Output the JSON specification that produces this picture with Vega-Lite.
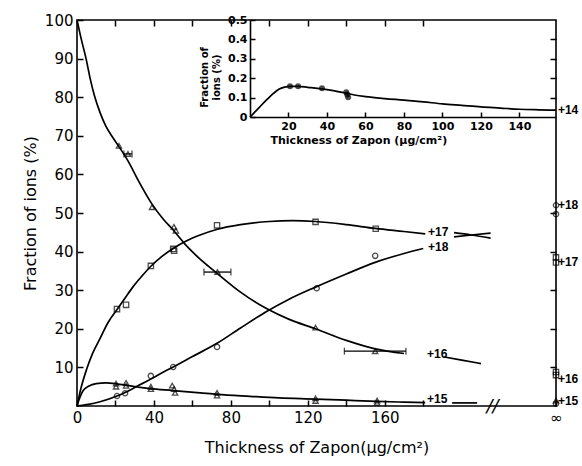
{
  "$schema": "https://vega.github.io/schema/vega-lite/v6.json",
  "width": 479,
  "height": 386,
  "autosize": "none",
  "padding": {"left": 77, "top": 20, "right": 26, "bottom": 60},
  "background": "white",
  "config": {
    "view": {"stroke": "black", "strokeWidth": 1.6},
    "axis": {
      "grid": false, "tickColor": "black", "domainColor": "black", "labelColor": "black",
      "titleColor": "black", "labelFont": "DejaVu Sans", "titleFont": "DejaVu Sans",
      "titleFontWeight": "normal", "tickWidth": 1.5, "domainWidth": 1.6, "labelFlush": false, "labelOverlap": false
    },
    "text": {"font": "DejaVu Sans", "color": "black"}
  },
  "datasets": {
    "curves": [
      {"s": "16a", "x": 0, "y": 100}, {"s": "16a", "x": 2, "y": 95.5}, {"s": "16a", "x": 4.7, "y": 90}, {"s": "16a", "x": 7, "y": 84.5}, {"s": "16a", "x": 9, "y": 80.5}, {"s": "16a", "x": 12, "y": 76}, {"s": "16a", "x": 15, "y": 72.5}, {"s": "16a", "x": 18, "y": 70}, {"s": "16a", "x": 21.8, "y": 67.2}, {"s": "16a", "x": 26.5, "y": 63.5}, {"s": "16a", "x": 32, "y": 58.3}, {"s": "16a", "x": 39, "y": 52.3}, {"s": "16a", "x": 45, "y": 48.3}, {"s": "16a", "x": 50, "y": 45.6}, {"s": "16a", "x": 56, "y": 42}, {"s": "16a", "x": 63, "y": 38.5}, {"s": "16a", "x": 73, "y": 34.3}, {"s": "16a", "x": 85, "y": 29.5}, {"s": "16a", "x": 99, "y": 25.1}, {"s": "16a", "x": 110, "y": 22.5}, {"s": "16a", "x": 124, "y": 20}, {"s": "16a", "x": 140, "y": 17}, {"s": "16a", "x": 155, "y": 14.8}, {"s": "16a", "x": 170, "y": 13.6},
      {"s": "16b", "x": 191, "y": 12.7}, {"s": "16b", "x": 200, "y": 11.9}, {"s": "16b", "x": 210, "y": 11},
      {"s": "17a", "x": 0, "y": 0}, {"s": "17a", "x": 2, "y": 4.5}, {"s": "17a", "x": 5, "y": 9.5}, {"s": "17a", "x": 8, "y": 13.5}, {"s": "17a", "x": 12, "y": 17.5}, {"s": "17a", "x": 16, "y": 21.5}, {"s": "17a", "x": 20.8, "y": 25}, {"s": "17a", "x": 25, "y": 28}, {"s": "17a", "x": 29, "y": 30.8}, {"s": "17a", "x": 34, "y": 33.8}, {"s": "17a", "x": 38.4, "y": 36.2}, {"s": "17a", "x": 44, "y": 38.7}, {"s": "17a", "x": 50, "y": 40.8}, {"s": "17a", "x": 57, "y": 42.8}, {"s": "17a", "x": 64, "y": 44.3}, {"s": "17a", "x": 73, "y": 45.8}, {"s": "17a", "x": 85, "y": 47}, {"s": "17a", "x": 100, "y": 47.8}, {"s": "17a", "x": 112, "y": 48}, {"s": "17a", "x": 124, "y": 47.8}, {"s": "17a", "x": 140, "y": 47}, {"s": "17a", "x": 155, "y": 46}, {"s": "17a", "x": 170, "y": 45.2}, {"s": "17a", "x": 181, "y": 44.6},
      {"s": "17b", "x": 196, "y": 44.9}, {"s": "17b", "x": 205, "y": 44.3}, {"s": "17b", "x": 215, "y": 43.5},
      {"s": "18a", "x": 0, "y": 0}, {"s": "18a", "x": 6, "y": 0.4}, {"s": "18a", "x": 12, "y": 1.1}, {"s": "18a", "x": 20.8, "y": 2.6}, {"s": "18a", "x": 25, "y": 3.5}, {"s": "18a", "x": 30, "y": 4.8}, {"s": "18a", "x": 38.4, "y": 7}, {"s": "18a", "x": 45, "y": 8.8}, {"s": "18a", "x": 50, "y": 10.1}, {"s": "18a", "x": 60, "y": 12.8}, {"s": "18a", "x": 73, "y": 16.3}, {"s": "18a", "x": 85, "y": 20.2}, {"s": "18a", "x": 99, "y": 24.6}, {"s": "18a", "x": 110, "y": 27.6}, {"s": "18a", "x": 124, "y": 30.8}, {"s": "18a", "x": 140, "y": 34.2}, {"s": "18a", "x": 155, "y": 37.2}, {"s": "18a", "x": 170, "y": 39.5}, {"s": "18a", "x": 180, "y": 40.8},
      {"s": "18b", "x": 196, "y": 43.8}, {"s": "18b", "x": 205, "y": 44.3}, {"s": "18b", "x": 215, "y": 44.8},
      {"s": "15a", "x": 0, "y": 0}, {"s": "15a", "x": 1.5, "y": 2.2}, {"s": "15a", "x": 3.2, "y": 4}, {"s": "15a", "x": 6, "y": 5.1}, {"s": "15a", "x": 10, "y": 5.8}, {"s": "15a", "x": 15, "y": 6}, {"s": "15a", "x": 20, "y": 5.8}, {"s": "15a", "x": 25, "y": 5.4}, {"s": "15a", "x": 30, "y": 5}, {"s": "15a", "x": 38, "y": 4.5}, {"s": "15a", "x": 50, "y": 4}, {"s": "15a", "x": 64, "y": 3.4}, {"s": "15a", "x": 73, "y": 3}, {"s": "15a", "x": 90, "y": 2.5}, {"s": "15a", "x": 105, "y": 2.1}, {"s": "15a", "x": 124, "y": 1.8}, {"s": "15a", "x": 140, "y": 1.5}, {"s": "15a", "x": 156, "y": 1.2}, {"s": "15a", "x": 170, "y": 1}, {"s": "15a", "x": 181, "y": 0.85},
      {"s": "15b", "x": 195, "y": 0.8}, {"s": "15b", "x": 208, "y": 0.8}
    ],
    "points": [
      {"m": "tri", "x": 21.8, "y": 67.4}, {"m": "tri", "x": 26.5, "y": 65.3}, {"m": "tri", "x": 39, "y": 51.5}, {"m": "tri", "x": 50.4, "y": 46.4}, {"m": "tri", "x": 51.4, "y": 45.4}, {"m": "tri", "x": 73, "y": 34.7}, {"m": "tri", "x": 124, "y": 20.3}, {"m": "tri", "x": 155, "y": 14.2},
      {"m": "sq", "x": 20.8, "y": 25.1}, {"m": "sq", "x": 25.5, "y": 26.2}, {"m": "sq", "x": 38.4, "y": 36.3}, {"m": "sq", "x": 50, "y": 40.7}, {"m": "sq", "x": 50.5, "y": 40.2}, {"m": "sq", "x": 72.8, "y": 46.8}, {"m": "sq", "x": 124, "y": 47.7}, {"m": "sq", "x": 155.3, "y": 45.9},
      {"m": "circ", "x": 20.8, "y": 2.6}, {"m": "circ", "x": 25, "y": 3.3}, {"m": "circ", "x": 38.4, "y": 7.8}, {"m": "circ", "x": 50, "y": 10.1}, {"m": "circ", "x": 72.8, "y": 15.3}, {"m": "circ", "x": 124.6, "y": 30.5}, {"m": "circ", "x": 155, "y": 38.9},
      {"m": "tri", "x": 20.3, "y": 5.8}, {"m": "tri", "x": 20.3, "y": 5}, {"m": "tri", "x": 25.5, "y": 6}, {"m": "tri", "x": 25.5, "y": 5.2}, {"m": "tri", "x": 38.4, "y": 5}, {"m": "tri", "x": 38.4, "y": 4.4}, {"m": "tri", "x": 49.5, "y": 5.3}, {"m": "tri", "x": 50.5, "y": 4.4}, {"m": "tri", "x": 51, "y": 3.4}, {"m": "tri", "x": 72.8, "y": 3.4}, {"m": "tri", "x": 72.8, "y": 2.7}, {"m": "tri", "x": 124, "y": 2}, {"m": "tri", "x": 124, "y": 1.3}, {"m": "tri", "x": 156, "y": 1.4}, {"m": "tri", "x": 156, "y": 0.8},
      {"m": "circ", "x": 249, "y": 52}, {"m": "circ", "x": 249, "y": 49.7}, {"m": "sq", "x": 249, "y": 38.5}, {"m": "sq", "x": 249, "y": 37.2}, {"m": "sq", "x": 249, "y": 8.8}, {"m": "sq", "x": 249, "y": 8}, {"m": "tri", "x": 249, "y": 1.4}, {"m": "circ", "x": 249, "y": 0.6}
    ],
    "errors": [
      {"x1": 24.4, "x2": 28.6, "y": 65.3}, {"x1": 66, "x2": 80, "y": 34.7}, {"x1": 139, "x2": 171, "y": 14.2}
    ],
    "labels": [
      {"t": "+17", "x": 182.5, "y": 45.2}, {"t": "+18", "x": 182.5, "y": 41.2}, {"t": "+16", "x": 182, "y": 13.5}, {"t": "+15", "x": 182, "y": 1.8},
      {"t": "+18", "x": 250, "y": 52}, {"t": "+17", "x": 250, "y": 37.3}, {"t": "+16", "x": 250, "y": 7}, {"t": "+15", "x": 250, "y": 1.3}
    ],
    "brk": [{"t": "//", "x": 216, "y": 0}],
    "inset_curve": [
      {"x": 0, "y": 0}, {"x": 3, "y": 0.03}, {"x": 6, "y": 0.062}, {"x": 9, "y": 0.092}, {"x": 12, "y": 0.12}, {"x": 15, "y": 0.143}, {"x": 18, "y": 0.154}, {"x": 21, "y": 0.158}, {"x": 25, "y": 0.158}, {"x": 30, "y": 0.153}, {"x": 37.4, "y": 0.145}, {"x": 44, "y": 0.135}, {"x": 50, "y": 0.123}, {"x": 55, "y": 0.112}, {"x": 60, "y": 0.105}, {"x": 70, "y": 0.095}, {"x": 80, "y": 0.087}, {"x": 90, "y": 0.078}, {"x": 100, "y": 0.068}, {"x": 110, "y": 0.06}, {"x": 120, "y": 0.052}, {"x": 130, "y": 0.046}, {"x": 140, "y": 0.04}, {"x": 150, "y": 0.037}, {"x": 159, "y": 0.035}
    ],
    "inset_pts": [
      {"x": 20.8, "y": 0.158}, {"x": 25, "y": 0.158}, {"x": 37.4, "y": 0.148}, {"x": 50, "y": 0.128}, {"x": 50.5, "y": 0.116}, {"x": 51, "y": 0.102}
    ],
    "inset_lab": [{"t": "+14", "x": 160, "y": 0.036}]
  },
  "resolve": {"scale": {"x": "independent", "y": "independent"}},
  "layer": [
    {
      "layer": [
        {
          "data": {"name": "curves"},
          "mark": {"type": "line", "interpolate": "monotone", "color": "black", "strokeWidth": 1.7},
          "encoding": {
            "x": {"field": "x", "type": "quantitative", "scale": {"domain": [0, 249], "nice": false, "zero": false},
              "axis": {"orient": "bottom", "domain": false, "values": [0, 20, 40, 60, 80, 100, 120, 140, 160, 180, 249], "tickSize": -6, "labelPadding": 10,
                "labelExpr": "datum.value == 249 ? '∞' : (datum.value % 40 == 0 ? datum.label : '')", "labelFontSize": 15,
                "title": "Thickness  of  Zapon(μg/cm²)", "titleFontSize": 16, "titlePadding": 14}},
            "y": {"field": "y", "type": "quantitative", "scale": {"domain": [0, 100], "nice": false},
              "axis": {"orient": "left", "domain": false, "values": [10, 20, 30, 40, 50, 60, 70, 80, 90, 100], "tickSize": -6, "labelPadding": 10,
                "labelFontSize": 15, "title": "Fraction  of  ions  (%)", "titleFontSize": 16, "titlePadding": 6}},
            "detail": {"field": "s"}
          }
        },
        {
          "data": {"name": "points"},
          "mark": {"type": "point", "filled": false, "color": "black", "strokeWidth": 1.3, "size": 28},
          "encoding": {
            "x": {"field": "x", "type": "quantitative"},
            "y": {"field": "y", "type": "quantitative"},
            "shape": {"field": "m", "type": "nominal", "legend": null, "scale": {"domain": ["tri", "sq", "circ"], "range": ["triangle-up", "square", "circle"]}}
          }
        },
        {
          "data": {"name": "errors"},
          "mark": {"type": "rule", "color": "black", "strokeWidth": 1.3},
          "encoding": {
            "x": {"field": "x1", "type": "quantitative"},
            "x2": {"field": "x2"},
            "y": {"field": "y", "type": "quantitative"}
          }
        },
        {
          "data": {"name": "errors"},
          "mark": {"type": "tick", "orient": "vertical", "color": "black", "size": 7, "thickness": 1.3},
          "encoding": {
            "x": {"field": "x1", "type": "quantitative"},
            "y": {"field": "y", "type": "quantitative"}
          }
        },
        {
          "data": {"name": "errors"},
          "mark": {"type": "tick", "orient": "vertical", "color": "black", "size": 7, "thickness": 1.3},
          "encoding": {
            "x": {"field": "x2", "type": "quantitative"},
            "y": {"field": "y", "type": "quantitative"}
          }
        },
        {
          "data": {"name": "labels"},
          "mark": {"type": "text", "align": "left", "baseline": "middle", "fontSize": 12, "font": "Liberation Sans", "fontWeight": "bold"},
          "encoding": {
            "x": {"field": "x", "type": "quantitative"},
            "y": {"field": "y", "type": "quantitative"},
            "text": {"field": "t"}
          }
        },
        {
          "data": {"name": "brk"},
          "mark": {"type": "text", "align": "center", "baseline": "middle", "fontSize": 18, "fontStyle": "italic", "dy": 1},
          "encoding": {
            "x": {"field": "x", "type": "quantitative"},
            "y": {"field": "y", "type": "quantitative"},
            "text": {"field": "t"}
          }
        }
      ]
    },
    {
      "layer": [
        {
          "data": {"name": "inset_curve"},
          "mark": {"type": "line", "interpolate": "monotone", "color": "black", "strokeWidth": 1.7},
          "encoding": {
            "x": {"field": "x", "type": "quantitative", "scale": {"domain": [0, 159], "range": [173, 479], "nice": false, "zero": false},
              "axis": {"orient": "bottom", "offset": -289, "values": [20, 40, 60, 80, 100, 120, 140], "tickSize": -5, "labelPadding": 8,
                "labelFontSize": 11, "labelFontWeight": "bold", "title": "Thickness of Zapon (μg/cm²)", "titleFontSize": 11, "titleFontWeight": "bold",
                "titlePadding": 3, "titleAnchor": "start", "titleX": 193, "titleAlign": "left"}},
            "y": {"field": "y", "type": "quantitative", "scale": {"domain": [0, 0.5], "range": [97, 0], "nice": false},
              "axis": {"orient": "left", "offset": -173, "values": [0, 0.1, 0.2, 0.3, 0.4, 0.5], "tickSize": -5, "labelPadding": 8,
                "labelExpr": "datum.value == 0 ? '0' : format(datum.value, '.1f')",
                "labelFontSize": 11, "labelFontWeight": "bold", "title": ["Fraction of", "ions (%)"], "titleFontSize": 10, "titleFontWeight": "bold",
                "titlePadding": 6, "titleY": 57}}
          }
        },
        {
          "data": {"name": "inset_pts"},
          "mark": {"type": "point", "filled": true, "color": "black", "size": 36},
          "encoding": {
            "x": {"field": "x", "type": "quantitative"},
            "y": {"field": "y", "type": "quantitative"}
          }
        },
        {
          "data": {"name": "inset_lab"},
          "mark": {"type": "text", "align": "left", "baseline": "middle", "fontSize": 12, "font": "Liberation Sans", "fontWeight": "bold"},
          "encoding": {
            "x": {"field": "x", "type": "quantitative"},
            "y": {"field": "y", "type": "quantitative"},
            "text": {"field": "t"}
          }
        }
      ]
    },
    {
      "data": {"name": "curves"},
      "mark": {"type": "point", "opacity": 0},
      "encoding": {
        "x": {"field": "x", "type": "quantitative", "scale": {"domain": [0, 249], "nice": false, "zero": false},
          "axis": {"orient": "top", "domain": false, "labels": false, "title": null, "values": [20, 40, 60, 80, 100, 120, 140, 160, 180], "tickSize": -6}}
      }
    },
    {
      "data": {"name": "curves"},
      "mark": {"type": "point", "opacity": 0},
      "encoding": {
        "y": {"field": "y", "type": "quantitative", "scale": {"domain": [0, 100], "nice": false},
          "axis": {"orient": "right", "domain": false, "labels": false, "title": null, "values": [10, 20, 30, 40, 50], "tickSize": -6}}
      }
    },
    {
      "data": {"name": "inset_curve"},
      "mark": {"type": "point", "opacity": 0},
      "encoding": {
        "y": {"field": "y", "type": "quantitative", "scale": {"domain": [0, 0.5], "range": [97, 0], "nice": false},
          "axis": {"orient": "right", "domain": false, "labels": false, "title": null, "values": [0.1, 0.2, 0.3, 0.4], "tickSize": -6}}
      }
    }
  ]
}
